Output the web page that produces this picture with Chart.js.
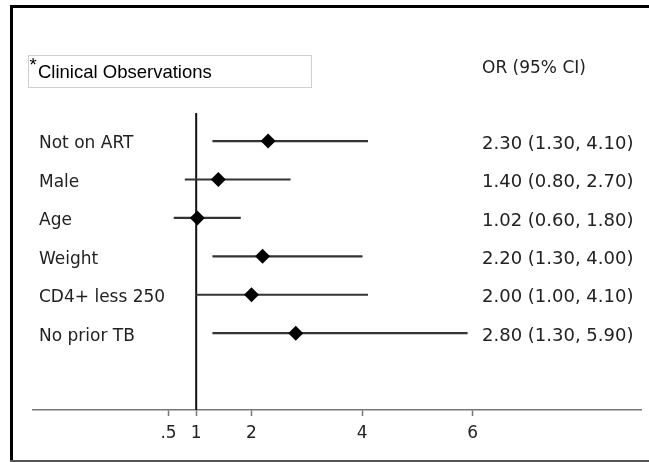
<!DOCTYPE html>
<html>
<head>
<meta charset="utf-8">
<script src="https://cdn.jsdelivr.net/npm/chart.js@4/dist/chart.umd.min.js"></script>
<style>
  html, body { margin: 0; padding: 0; background: #fff; overflow: hidden; }
  canvas { display: block; }
</style>
</head>
<body>
<canvas id="forest" width="649" height="462"></canvas>
<script>
// datos del forest plot
const categories = ["Not on ART", "Male", "Age", "Weight", "CD4+ less 250", "No prior TB"];
const orValues = [2.30, 1.40, 1.02, 2.20, 2.00, 2.80];
const ciLow = [1.30, 0.80, 0.60, 1.30, 1.00, 1.30];
const ciHigh = [4.10, 2.70, 1.80, 4.00, 4.10, 5.90];
const tickValues = [0.5, 1, 2, 4, 6];
const tickLabels = [".5", "1", "2", "4", "6"];
const refValue = 1;

const X_MIN = -1.95, X_MAX = 9.05;
const Y_MIN = -0.73, Y_MAX = 7;

// marco de la figura (bordes izquierdo, superior e inferior)
const framePlugin = {
  id: "frame",
  beforeDraw(chart) {
    const c = chart.ctx;
    c.save();
    c.fillStyle = "#fff";
    c.fillRect(0, 0, chart.width, chart.height);
    c.fillStyle = "#000";
    c.fillRect(10, 5, chart.width - 10, 3);
    c.fillRect(10, 5, 3, chart.height - 5);
    c.fillStyle = "#555";
    c.fillRect(10, chart.height - 2, chart.width - 10, 2);
    c.restore();
  }
};

// textos: etiquetas, OR (IC) y caja del titulo
const textPlugin = {
  id: "forestText",
  afterDraw(chart) {
    const ctx = chart.ctx;
    const y = chart.scales.y;
    ctx.save();
    ctx.fillStyle = "#222";
    ctx.textBaseline = "middle";
    ctx.textAlign = "left";
    categories.forEach((c, i) => {
      const py = y.getPixelForValue(i) + 3;
      ctx.font = '17px "DejaVu Sans"';
      ctx.fillText(c, 39, py);
      const txt = orValues[i].toFixed(2) + " (" + ciLow[i].toFixed(2) + ", " + ciHigh[i].toFixed(2) + ")";
      ctx.font = '18px "DejaVu Sans"';
      ctx.fillText(txt, 482, py);
    });
    ctx.font = '17px "DejaVu Sans"';
    ctx.fillText("OR (95% CI)", 482, 68.5);

    // caja "Clinical Observations"
    ctx.strokeStyle = "#cfcfcf";
    ctx.lineWidth = 1;
    ctx.strokeRect(28.5, 55.5, 283, 32);
    ctx.fillStyle = "#000";
    ctx.font = '18.5px "Liberation Sans"';
    ctx.fillText("Clinical Observations", 38, 72.5);
    ctx.fillText("*", 29.5, 66);
    ctx.restore();
  }
};

const ctx = document.getElementById("forest").getContext("2d");

new Chart(ctx, {
  type: "scatter",
  data: {
    datasets: [
      {
        type: "scatter",
        data: orValues.map((v, i) => ({ x: v, y: i })),
        pointStyle: "rectRot",
        pointRadius: 7.5,
        pointBackgroundColor: "#000",
        pointBorderWidth: 0,
        order: 0
      },
      {
        type: "bar",
        indexAxis: "y",
        data: ciLow.map((lo, i) => ({ x: [lo, ciHigh[i]], y: i })),
        backgroundColor: "#333",
        barThickness: 1.5,
        borderWidth: 0,
        order: 1
      },
      {
        type: "line",
        data: [{ x: refValue, y: Y_MIN }, { x: refValue, y: Y_MAX }],
        borderColor: "#111",
        borderWidth: 2,
        pointRadius: 0,
        order: 2
      }
    ]
  },
  options: {
    responsive: false,
    animation: false,
    events: [],
    layout: { padding: { top: 113, left: 33, right: 5.5, bottom: 0 } },
    plugins: {
      legend: { display: false },
      tooltip: { enabled: false },
      title: { display: false }
    },
    scales: {
      x: {
        type: "linear",
        min: X_MIN,
        max: X_MAX,
        offset: false,
        afterBuildTicks: (scale) => {
          scale.ticks = tickValues.map(v => ({ value: v }));
        },
        afterFit: (scale) => { scale.height = 52; },
        ticks: {
          autoSkip: false,
          maxRotation: 0,
          padding: 7,
          color: "#222",
          font: { family: "DejaVu Sans", size: 17 },
          callback: (v) => {
            const k = tickValues.indexOf(v);
            return k >= 0 ? tickLabels[k] : "";
          }
        },
        grid: {
          display: true,
          drawOnChartArea: false,
          drawTicks: true,
          tickLength: 6,
          tickColor: "#777",
          tickWidth: 1.5,
          offset: false
        },
        border: { display: true, color: "#777", width: 1.5 }
      },
      y: {
        type: "linear",
        min: Y_MIN,
        max: Y_MAX,
        reverse: true,
        offset: false,
        display: false,
        grid: { offset: false }
      }
    }
  },
  plugins: [framePlugin, textPlugin]
});
</script>
</body>
</html>
